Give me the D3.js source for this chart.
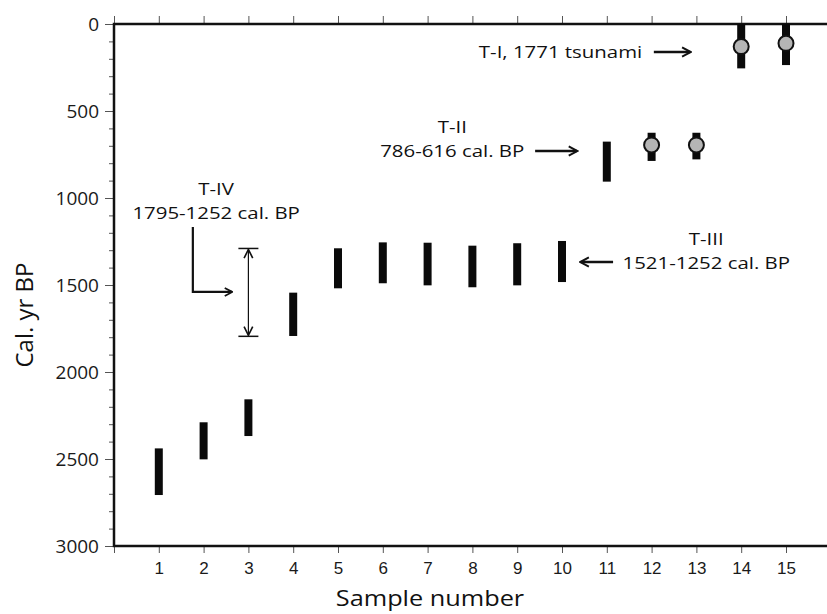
<!DOCTYPE html>
<html>
<head>
<meta charset="utf-8">
<script src="https://cdn.jsdelivr.net/npm/d3@7"></script>
<style>
  html, body { margin: 0; padding: 0; background: #fff; }
  svg { display: block; }
  .tick line { stroke: #555; stroke-width: 1; }
  .domain { display: none; }
  .xlab text { font-family: "Liberation Sans", Arial, sans-serif; font-size: 17px; fill: #1a1a1a; }
  .ylab text { font-family: "Open Sans", sans-serif; font-size: 19px; fill: #1a1a1a; }
  .note { font-family: "Open Sans", sans-serif; font-size: 17px; fill: #111; }
</style>
</head>
<body>
<div id="chart"></div>
<script>
// samples and calibrated age ranges (cal. yr BP)
const samples = [1, 2, 3, 4, 5, 6, 7, 8, 9, 10, 11, 12, 13, 14, 15]
const ageYoung = [2439, 2289, 2157, 1544, 1289, 1255, 1257, 1274, 1260, 1247, 676, 625, 625, 0, 0]
const ageOld = [2707, 2502, 2368, 1793, 1519, 1490, 1502, 1513, 1502, 1483, 906, 787, 778, 255, 236]

// samples with a grey dot (median age)
const dotSamples = [12, 13, 14, 15]
const dotAges = [695, 695, 130, 111]

const xTicks = d3.range(0, 16)
const yMajor = [0, 500, 1000, 1500, 2000, 2500, 3000]
const yMinor = d3.range(0, 3001, 100)

// tsunami annotations: label lines, anchor (sample units, years)
const notes = [
  { lines: ['T-I, 1771 tsunami'], x: 11.79, y: 195, anchor: 'end' },
  { lines: ['T-II', '786-616 cal. BP'], x: 7.55, y: 625, anchor: 'middle' },
  { lines: ['T-III', '1521-1252 cal. BP'], x: 13.22, y: 1268, anchor: 'middle' },
  { lines: ['T-IV', '1795-1252 cal. BP'], x: 2.28, y: 980, anchor: 'middle' }
]
// straight arrows [x1, x2, y]
const arrows = [
  [12.05, 12.86, 161],
  [9.40, 10.33, 730],
  [11.14, 10.42, 1368]
]
// T-IV range bracket
const bracket = { sample: 3, from: 1290, to: 1795 }

const width = 827
const height = 614
const plotLeft = 114
const plotTop = 24
const plotBottom = 546

const svg = d3.select('#chart')
  .append('svg')
  .attr('width', width)
  .attr('height', height)

const x = d3.scaleLinear().domain([0, 16]).range([plotLeft, plotLeft + 16 * 44.8])
const y = d3.scaleLinear().domain([0, 3000]).range([plotTop, plotBottom])

const defs = svg.append('defs')
defs.append('marker')
  .attr('id', 'head')
  .attr('viewBox', '0 0 10 10')
  .attr('refX', 8.5).attr('refY', 5)
  .attr('markerWidth', 4.6).attr('markerHeight', 4.6)
  .attr('markerUnits', 'strokeWidth')
  .attr('orient', 'auto')
  .append('path')
  .attr('d', 'M1.5,1 L9,5 L1.5,9')
  .attr('fill', 'none')
  .attr('stroke', '#111')
  .attr('stroke-width', 1.7)
defs.append('marker')
  .attr('id', 'thin')
  .attr('viewBox', '0 0 10 10')
  .attr('refX', 9).attr('refY', 5)
  .attr('markerWidth', 9).attr('markerHeight', 9)
  .attr('markerUnits', 'strokeWidth')
  .attr('orient', 'auto-start-reverse')
  .append('path')
  .attr('d', 'M1,1 L9,5 L1,9')
  .attr('fill', 'none')
  .attr('stroke', '#111')
  .attr('stroke-width', 1.5)

// axes
svg.append('g')
  .attr('class', 'xlab')
  .attr('transform', `translate(0, ${plotBottom})`)
  .call(d3.axisBottom(x).tickValues(xTicks).tickSize(7).tickPadding(9)
    .tickFormat(d => d === 0 ? '' : d))

svg.append('g')
  .attr('transform', `translate(0, ${plotTop})`)
  .call(d3.axisTop(x).tickValues(xTicks).tickSize(8).tickFormat(''))

svg.append('g')
  .attr('transform', `translate(${plotLeft}, 0)`)
  .call(d3.axisLeft(y).tickValues(yMinor).tickSize(5).tickFormat(''))

svg.append('g')
  .attr('class', 'ylab')
  .attr('transform', `translate(${plotLeft}, 0)`)
  .call(d3.axisLeft(y).tickValues(yMajor).tickSize(9).tickPadding(6).tickFormat(d3.format('d')))

// frame lines
svg.append('path')
  .attr('d', `M${width},${plotTop} H${plotLeft} V${plotBottom} H${width}`)
  .attr('fill', 'none')
  .attr('stroke', '#111')
  .attr('stroke-width', 2.5)

// age ranges
svg.selectAll('rect.age')
  .data(samples)
  .enter()
  .append('rect')
  .attr('class', 'age')
  .attr('x', d => x(d) - 4)
  .attr('y', (d, i) => y(ageYoung[i]))
  .attr('width', 8)
  .attr('height', (d, i) => y(ageOld[i]) - y(ageYoung[i]))
  .attr('fill', '#0a0a0a')

svg.selectAll('circle.dot')
  .data(dotSamples)
  .enter()
  .append('circle')
  .attr('class', 'dot')
  .attr('cx', d => x(d))
  .attr('cy', (d, i) => y(dotAges[i]))
  .attr('r', 7.5)
  .attr('fill', '#b5b5b5')
  .attr('stroke', '#111')
  .attr('stroke-width', 2)

// T-IV bracket
const bx = x(bracket.sample)
svg.append('line')
  .attr('x1', bx).attr('x2', bx)
  .attr('y1', y(bracket.from) + 1).attr('y2', y(bracket.to) - 1)
  .attr('stroke', '#111').attr('stroke-width', 1.2)
  .attr('marker-start', 'url(#thin)')
  .attr('marker-end', 'url(#thin)')
svg.selectAll('line.cap')
  .data([bracket.from, bracket.to])
  .enter()
  .append('line')
  .attr('class', 'cap')
  .attr('x1', bx - 10).attr('x2', bx + 10)
  .attr('y1', d => y(d)).attr('y2', d => y(d))
  .attr('stroke', '#111').attr('stroke-width', 1.5)

// elbow arrow for T-IV
svg.append('path')
  .attr('d', `M${x(1.76)},${y(1167)} V${y(1540)} H${x(2.63)}`)
  .attr('fill', 'none')
  .attr('stroke', '#111')
  .attr('stroke-width', 2.2)
  .attr('marker-end', 'url(#head)')

// straight arrows
svg.selectAll('line.arrow')
  .data(arrows)
  .enter()
  .append('line')
  .attr('class', 'arrow')
  .attr('x1', d => x(d[0])).attr('x2', d => x(d[1]))
  .attr('y1', d => y(d[2])).attr('y2', d => y(d[2]))
  .attr('stroke', '#111')
  .attr('stroke-width', 2.5)
  .attr('marker-end', 'url(#head)')

// annotation text
notes.forEach(n => {
  n.lines.forEach((t, k) => {
    svg.append('text')
      .attr('class', 'note')
      .attr('text-anchor', n.anchor)
      .attr('transform', `translate(${x(n.x)}, ${y(n.y) + k * 24}) scale(1.2, 1)`)
      .text(t)
  })
})

// axis titles
svg.append('text')
  .attr('transform', `translate(33, 315) rotate(-90)`)
  .attr('text-anchor', 'middle')
  .style('font-family', '"Open Sans", sans-serif')
  .style('font-size', '24px')
  .style('fill', '#111')
  .text('Cal. yr BP')

svg.append('text')
  .attr('transform', `translate(430, 606) scale(1.15, 1)`)
  .attr('text-anchor', 'middle')
  .style('font-family', '"Open Sans", sans-serif')
  .style('font-size', '22px')
  .style('fill', '#111')
  .text('Sample number')
</script>
</body>
</html>
